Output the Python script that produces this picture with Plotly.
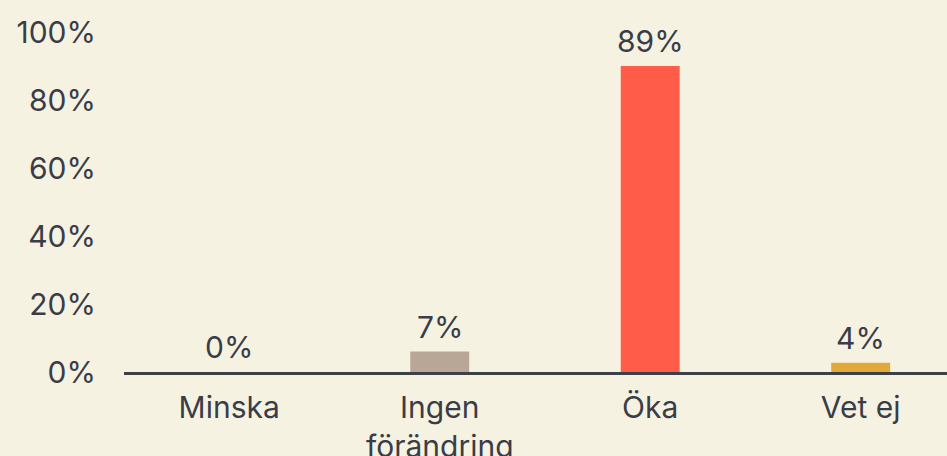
import plotly.graph_objects as go

categories = ["Minska", "Ingen<br>förändring", "Öka", "Vet ej"]
values = [0, 6, 90, 2.7]
value_labels = ["0%", "7%", "89%", "4%"]
bar_colors = ["#b8a796", "#b8a796", "#ff5c4a", "#e0a93a"]
tick_vals = [0, 20, 40, 60, 80, 100]
tick_text = ["0%", "20%", "40%", "60%", "80%", "100%"]

TEXT = "#3a3d47"
BG = "#f6f2e2"
FONT = "Inter"
FS = 30

fig = go.Figure()
fig.add_trace(go.Bar(
    x=categories, y=values, marker_color=bar_colors, width=0.28,
    marker_line_width=0, hoverinfo="skip",
))
for c, v, t in zip(categories, values, value_labels):
    fig.add_annotation(x=c, y=v, text=t, showarrow=False, yanchor="bottom",
                       yshift=5, font=dict(size=FS, color=TEXT, family=FONT))

fig.update_layout(
    width=947, height=456,
    paper_bgcolor=BG, plot_bgcolor=BG,
    margin=dict(l=124, r=0, t=32, b=84),
    showlegend=False,
    font=dict(family=FONT, size=FS, color=TEXT),
    bargap=0.7,
)
fig.update_xaxes(
    range=[-0.5, 3.41], showline=True, linecolor="#3d4049", linewidth=3,
    showgrid=False, ticks="", ticklabelstandoff=7, automargin=False,
    tickfont=dict(size=FS, color=TEXT, family=FONT), fixedrange=True,
)
fig.update_yaxes(
    range=[0, 100], tickvals=tick_vals, ticktext=tick_text, showgrid=False,
    zeroline=False, showline=False, ticks="", ticklabelstandoff=27,
    automargin=False,
    tickfont=dict(size=FS, color=TEXT, family=FONT), fixedrange=True,
)
fig.write_html("out.html", config={"displayModeBar": False},
               post_script="document.body.style.margin='0';document.body.style.background='%s';" % BG)
